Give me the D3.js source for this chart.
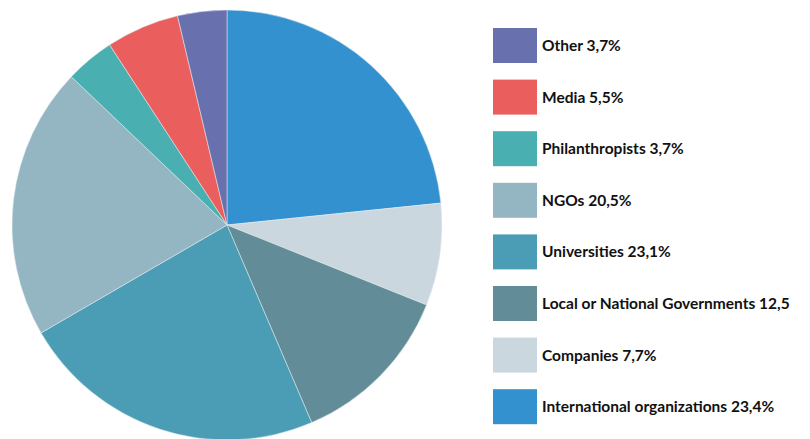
<!DOCTYPE html>
<html>
<head>
<meta charset="utf-8">
<script src="https://cdn.jsdelivr.net/npm/d3@7"></script>
<style>
    body { margin: 0; background: #fff; }
    svg { display: block; }
</style>
</head>
<body>
<div id="chart"></div>
<script>
// Data, clockwise from 12 o'clock
const categories = ["International organizations", "Companies", "Local or National Governments",
    "Universities", "NGOs", "Philanthropists", "Media", "Other"];
const shares = [23.4, 7.7, 12.5, 23.1, 20.5, 3.7, 5.5, 3.7];
const legendLabels = ["International organizations 23,4%", "Companies 7,7%", "Local or National Governments 12,5",
    "Universities 23,1%", "NGOs 20,5%", "Philanthropists 3,7%", "Media 5,5%", "Other 3,7%"];
const colors = ["#3391d0", "#cbd7df", "#628c97", "#4b9db5", "#93b6c2", "#4aafb0", "#eb5e5e", "#6870ae"];

const width = 810;
const height = 439;

const svg = d3.select("#chart")
    .append("svg")
    .attr("width", width)
    .attr("height", height);

const color = d3.scaleOrdinal().domain(categories).range(colors);

// Pie
const pie = d3.pie().sort(null).value(d => d.value);
const arc = d3.arc().innerRadius(0).outerRadius(215);

const data = categories.map((c, i) => ({ name: c, value: shares[i] }));

svg.append("g")
    .attr("transform", "translate(227,225)")
    .selectAll("path")
    .data(pie(data))
    .enter().append("path")
    .attr("d", arc)
    .attr("fill", d => color(d.data.name))
    .attr("stroke", "#e8eef2")
    .attr("stroke-width", 0.5);

// Legend (bottom-up order: Other on top)
const legendOrder = d3.range(categories.length).reverse();
const y = d3.scaleBand()
    .domain(legendOrder)
    .range([28, 28 + 51.6 * 8])
    .paddingInner(0);

const legend = svg.append("g")
    .selectAll("g")
    .data(legendOrder)
    .enter().append("g")
    .attr("transform", i => `translate(493,${y(i)})`);

legend.append("rect")
    .attr("width", 44)
    .attr("height", 35)
    .attr("fill", i => colors[i]);

legend.append("text")
    .attr("x", 49)
    .attr("y", 23)
    .attr("font-family", "Lato, 'Open Sans', sans-serif")
    .attr("font-weight", "bold")
    .attr("font-size", 15.5)
    .attr("fill", "#111")
    .text(i => legendLabels[i]);
</script>
</body>
</html>
